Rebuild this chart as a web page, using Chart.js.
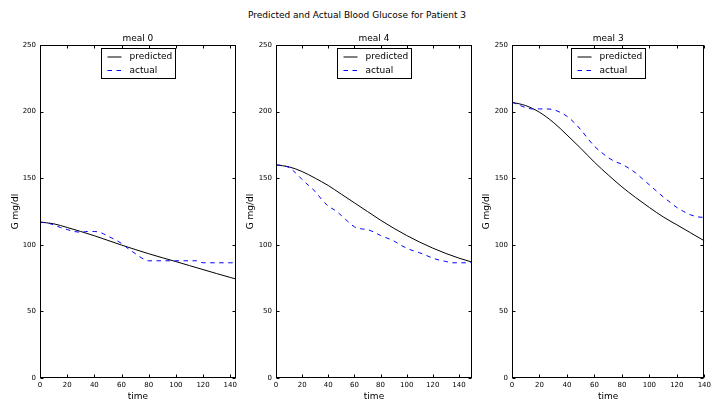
<!DOCTYPE html>
<html>
<head>
<meta charset="utf-8">
<script src="https://cdn.jsdelivr.net/npm/chart.js@4/dist/chart.umd.min.js"></script>
<style>
  body { margin: 0; background: #fff; width: 714px; height: 405px; position: relative; overflow: hidden; }
  canvas { position: absolute; top: 0; }
  #title { position: absolute; top: 9px; left: 0; width: 714px; text-align: center;
           font: 9px "DejaVu Sans", sans-serif; line-height: 12px; color: #000; }
</style>
</head>
<body>
<div id="title">Predicted and Actual Blood Glucose for Patient 3</div>
<canvas id="meal0" width="240" height="405" style="left:0px"></canvas>
<canvas id="meal4" width="240" height="405" style="left:235px"></canvas>
<canvas id="meal3" width="243" height="405" style="left:471px"></canvas>
<script>
// meal 0
const meal0PredTime = [0,10,20,30,40,50,60,70,80,90,100,110,120,130,140,144];
const meal0Pred = [117,115.8,113,110,106.8,103.3,99.8,96.5,93.3,90.3,87.4,84.4,81.4,78.4,75.5,74.4];
const meal0ActTime = [0,5,10,15,20,25,30,35,40,45,50,55,60,65,70,75,80,85,90,95,100,105,110,115,120,125,130,135,140,144];
const meal0Act = [117,116.5,115,113,111.5,110,109.5,110,110,109,106.5,104,101,97,93.5,90,88,88,88,88,88,88,88,88,86.5,86.5,86.5,86.5,86.5,86.5];

// meal 4
const meal4PredTime = [0,10,20,30,40,50,60,70,80,90,100,110,120,130,140,150];
const meal4Pred = [160,158.5,155,150,144.5,138,131.5,125,118.5,112.5,107,102,97.5,93.5,90,87];
const meal4ActTime = [0,5,10,15,20,25,30,35,40,45,50,55,60,65,70,75,80,85,90,95,100,105,110,115,120,125,130,135,140,145,150];
const meal4Act = [160,159.5,158,154,149,144.5,140,134,129,126,122,117.5,113.5,112,111.5,109.5,107,105,103,100,97.5,95.5,94,92,90,88.5,87.5,86.5,86.5,86.5,86.7];

// meal 3
const meal3PredTime = [0,10,20,30,40,50,60,70,80,90,100,110,120,130,140];
const meal3Pred = [207,204.5,199.5,192,182.5,172.5,162,152.5,143.5,135.5,128,121,115,109,103];
const meal3ActTime = [0,5,10,15,20,25,30,35,40,45,50,55,60,65,70,75,80,85,90,95,100,105,110,115,120,125,130,135,140];
const meal3Act = [207,205,203,202,202,202,201.5,199.5,196.5,192,186.5,180,174,169.5,165.5,162.5,160.5,157.5,154,149.5,145,140.5,136,132,128,125,122.5,121,120.5];

const yTicks = [0,50,100,150,200,250];
const fontFamily = '"DejaVu Sans", sans-serif';

const toPoints = (times, vals) => times.map((t, i) => ({x: t, y: vals[i]}));

// matplotlib-ish frame: box, inward ticks on all sides, panel title, legend
const mplAxes = {
  id: 'mplAxes',
  afterDraw(chart, args, opts) {
    const {ctx, chartArea: a, scales} = chart;
    const L = Math.round(a.left) + 0.5, R = Math.round(a.right) - 0.5;
    const T = Math.round(a.top) + 0.5, B = Math.round(a.bottom) - 0.5;
    ctx.save();
    ctx.strokeStyle = '#000';
    ctx.lineWidth = 1;
    ctx.beginPath();
    scales.x.ticks.forEach(t => {
      const px = Math.round(scales.x.getPixelForValue(t.value)) + 0.5;
      ctx.moveTo(px, B); ctx.lineTo(px, B - 3);
      ctx.moveTo(px, T); ctx.lineTo(px, T + 3);
    });
    scales.y.ticks.forEach(t => {
      const py = Math.round(scales.y.getPixelForValue(t.value)) + 0.5;
      ctx.moveTo(L, py); ctx.lineTo(L + 3, py);
      ctx.moveTo(R, py); ctx.lineTo(R - 3, py);
    });
    ctx.stroke();
    ctx.strokeRect(L, T, R - L, B - T);

    ctx.fillStyle = '#000';
    ctx.font = '9px ' + fontFamily;
    ctx.textAlign = 'center';
    ctx.textBaseline = 'middle';
    ctx.fillText(opts.title, (a.left + a.right) / 2, a.top - 6);

    // legend box
    const w = 74, h = 30;
    const bx = Math.round((a.left + a.right) / 2 - w / 2) + 0.5, by = T + 3;
    ctx.fillStyle = '#fff';
    ctx.fillRect(bx, by, w, h);
    ctx.strokeRect(bx, by, w, h);
    chart.data.datasets.forEach((ds, i) => {
      const ry = by + 8.5 + i * 13.5;
      ctx.strokeStyle = ds.borderColor;
      ctx.setLineDash(ds.borderDash || []);
      ctx.beginPath();
      ctx.moveTo(bx + 6, ry); ctx.lineTo(bx + 20, ry);
      ctx.stroke();
      ctx.setLineDash([]);
      ctx.fillStyle = '#000';
      ctx.textAlign = 'left';
      ctx.fillText(ds.label, bx + 28, ry);
    });
    ctx.restore();
  }
};

function makePanel(id, title, xMax, yWidth, rightPad, predT, pred, actT, act) {
  return new Chart(document.getElementById(id), {
    type: 'line',
    data: {
      datasets: [{
        label: 'predicted',
        data: toPoints(predT, pred),
        borderColor: '#000000',
        borderWidth: 1,
        pointRadius: 0,
        cubicInterpolationMode: 'monotone',
        order: 1
      }, {
        label: 'actual',
        data: toPoints(actT, act),
        borderColor: '#0000ff',
        borderWidth: 1,
        borderDash: [4.5, 4.5],
        pointRadius: 0,
        cubicInterpolationMode: 'monotone',
        order: 0
      }]
    },
    options: {
      responsive: false,
      animation: false,
      layout: { padding: { top: 45, right: rightPad, bottom: 0, left: 0 } },
      plugins: {
        legend: { display: false },
        tooltip: { enabled: false },
        mplAxes: { title: title }
      },
      scales: {
        x: {
          type: 'linear',
          min: 0,
          max: xMax,
          grid: { display: false, drawTicks: false },
          border: { display: false },
          ticks: { stepSize: 20, includeBounds: false, padding: 3, maxRotation: 0, autoSkip: false,
                   color: '#000', font: { family: fontFamily, size: 7 } },
          title: { display: true, text: 'time', color: '#000', font: { family: fontFamily, size: 9 },
                   padding: { top: 0, bottom: 3 } },
          afterFit: s => { s.height = 27; }
        },
        y: {
          min: 0,
          max: 250,
          grid: { display: false, drawTicks: false },
          border: { display: false },
          afterBuildTicks: s => { s.ticks = yTicks.map(v => ({ value: v })); },
          ticks: { padding: 4, color: '#000', font: { family: fontFamily, size: 7 } },
          title: { display: true, text: 'G mg/dl', color: '#000', font: { family: fontFamily, size: 9 },
                   padding: { top: 10, bottom: 0 } },
          afterFit: s => { s.width = yWidth; }
        }
      }
    },
    plugins: [mplAxes]
  });
}

makePanel('meal0', 'meal 0', 144, 40, 3, meal0PredTime, meal0Pred, meal0ActTime, meal0Act);
makePanel('meal4', 'meal 4', 150, 41, 3, meal4PredTime, meal4Pred, meal4ActTime, meal4Act);
makePanel('meal3', 'meal 3', 140, 41, 7, meal3PredTime, meal3Pred, meal3ActTime, meal3Act);
</script>
</body>
</html>
